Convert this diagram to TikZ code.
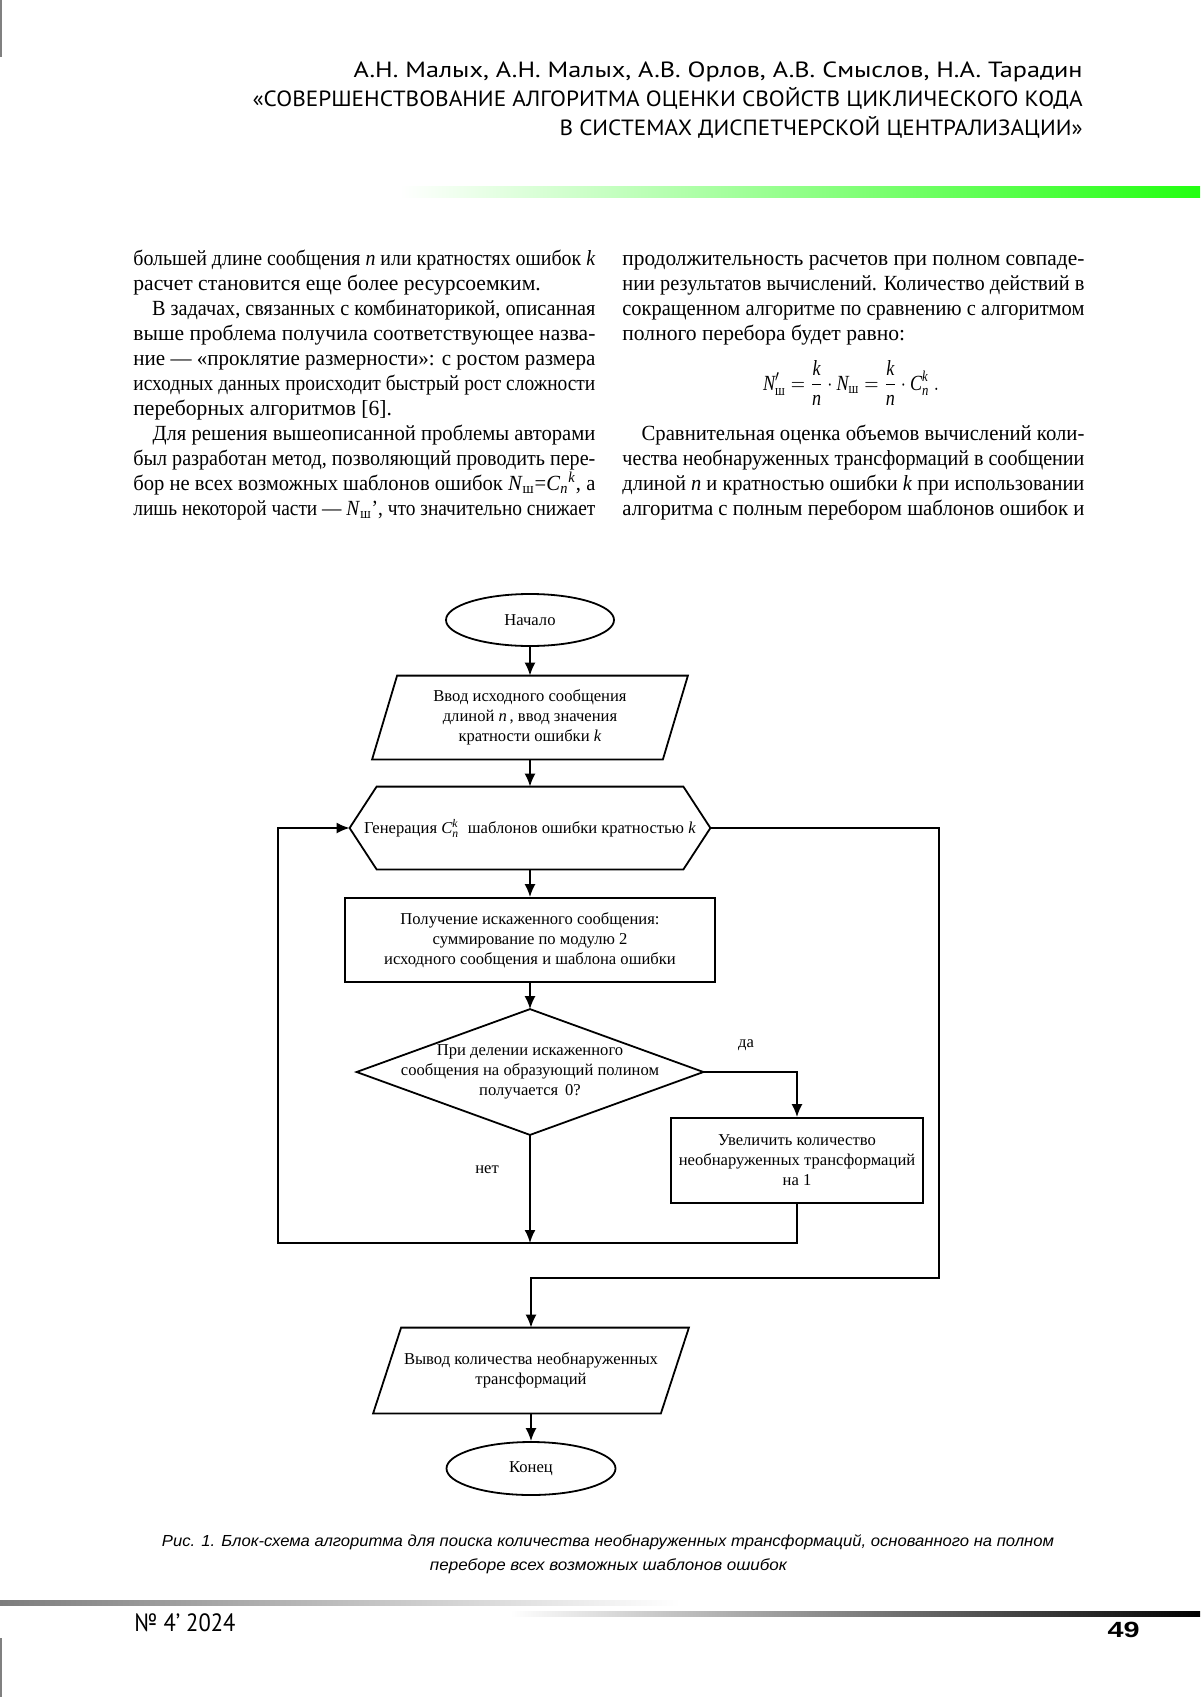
\documentclass[tikz,border=0pt]{standalone}
\usepackage{amsmath}
\usepackage{graphicx}
\usepackage{fontspec}
\setmainfont{Liberation Serif}
\newfontfamily\hdfont{PT Sans}
\newfontfamily\capfont{Liberation Sans}
\usetikzlibrary{arrows.meta,calc,shapes.geometric}
\definecolor{hdgreen}{RGB}{34,255,17}
\newlength\colw
\setlength\colw{231pt}
\newsavebox\lbox
\newcommand\jl[1]{\sbox\lbox{#1}\ifdim\wd\lbox>\colw\resizebox{\colw}{\height}{\usebox\lbox}\else\makebox[\colw][s]{#1}\fi}
\newcommand\fitw[2]{\resizebox{#1}{\height}{#2}}
\newcommand\vi[1]{\textit{#1}}
\newcommand\mi[1]{\text{\itshape #1}}
\newcommand\bodyfont{\fontsize{10.8}{12.5}\selectfont}
\newcommand\flfont{\fontsize{8.3}{10}\selectfont}
\tikzset{
  bline/.style={anchor=base west, inner sep=0, font=\bodyfont},
  hd/.style={anchor=base east, inner sep=0, font=\hdfont\fontsize{11}{13}\selectfont},
  fl/.style={line width=0.9pt, draw=black},
  arr/.style={fl, -{Latex[length=6.5pt,width=5.5pt]}},
  flbox/.style={inner sep=0, align=center, font=\flfont},
  lbl/.style={inner sep=0, font=\flfont},
}
\begin{document}
\begin{tikzpicture}[x=0.5pt,y=-0.5pt]
\useasboundingbox (0,0) rectangle (1200,1697);
\fill[white] (0,0) rectangle (1200,1697);
% page decorations
\fill[gray] (0,0) rectangle (1.5,57);
\fill[gray] (0,1638) rectangle (2,1697);
\shade[left color=white, right color=hdgreen] (400,186) rectangle (1200,197);
\shade[left color={rgb,255:red,125;green,125;blue,125}, right color=white] (0,1600) rectangle (680,1605);
\shade[left color=white, right color=black] (510,1611) rectangle (1200,1616);
% header
\node[hd] (h1) at (1083,77) {\fitw{364.5pt}{А.Н. Малых, А.Н. Малых, А.В. Орлов, А.В. Смыслов, Н.А. Тарадин}};
\node[hd] (h2) at (1083,106) {\fitw{415pt}{«СОВЕРШЕНСТВОВАНИЕ АЛГОРИТМА ОЦЕНКИ СВОЙСТВ ЦИКЛИЧЕСКОГО КОДА}};
\node[hd] (h3) at (1083,135) {\fitw{261.5pt}{В СИСТЕМАХ ДИСПЕТЧЕРСКОЙ ЦЕНТРАЛИЗАЦИИ»}};
% left column
\node[bline] (l1) at (133,265) {\jl{большей длине сообщения \vi{n} или кратностях ошибок \vi{k}}};
\node[bline] (l2) at (133,290) {расчет становится еще более ресурсоемким.};
\node[bline] (l3) at (133,315) {\jl{\hspace*{10pt}В задачах, связанных с комбинаторикой, описанная}};
\node[bline] (l4) at (133,340) {\jl{выше проблема получила соответствующее назва-}};
\node[bline] (l5) at (133,365) {\jl{ние — «проклятие размерности»: с ростом размера}};
\node[bline] (l6) at (133,390) {\jl{исходных данных происходит быстрый рост сложности}};
\node[bline] (l7) at (133,415) {переборных алгоритмов [6].};
\node[bline] (l8) at (133,440) {\jl{\hspace*{10pt}Для решения вышеописанной проблемы авторами}};
\node[bline] (l9) at (133,465) {\jl{был разработан метод, позволяющий проводить пере-}};
\node[bline] (l10) at (133,490) {\jl{бор не всех возможных шаблонов ошибок \vi{N}\textsubscript{ш}=\vi{C}$_{\mi{n}}$\textsuperscript{\vi{k}}, а}};
\node[bline] (l11) at (133,515) {\jl{лишь некоторой части — \vi{N}\textsubscript{ш}', что значительно снижает}};
% right column
\node[bline] (r1) at (622,265) {\jl{продолжительность расчетов при полном совпаде-}};
\node[bline] (r2) at (622,290) {\jl{нии результатов вычислений. Количество действий в}};
\node[bline] (r3) at (622,315) {\jl{сокращенном алгоритме по сравнению с алгоритмом}};
\node[bline] (r4) at (622,340) {полного перебора будет равно:};
\node[inner sep=0, font=\bodyfont] (formula) at (851,383) {\fitw{88pt}{$\displaystyle \mi{N}'_{\text{ш}} = \frac{\mi{k}}{\mi{n}}\cdot\mi{N}_{\text{ш}} = \frac{\mi{k}}{\mi{n}}\cdot\mi{C}_{\mi{n}}^{\mi{k}}\ .$}};
\node[bline] (r8) at (622,440) {\jl{\hspace*{10pt}Сравнительная оценка объемов вычислений коли-}};
\node[bline] (r9) at (622,465) {\jl{чества необнаруженных трансформаций в сообщении}};
\node[bline] (r10) at (622,490) {\jl{длиной \vi{n} и кратностью ошибки \vi{k} при использовании}};
\node[bline] (r11) at (622,515) {\jl{алгоритма с полным перебором шаблонов ошибок и}};
% flowchart
\node[flbox, draw, fl, ellipse, minimum width=84pt, minimum height=26pt] (start) at (530,620) {Начало};
\node[flbox, minimum width=157.5pt, minimum height=41.5pt] (inp) at (530,717.5) {Ввод исходного сообщения\\длиной \vi{n}\,, ввод значения\\кратности ошибки \vi{k}};
\draw[fl] ([xshift=12.5pt]inp.north west) -- (inp.north east) -- ([xshift=-12.5pt]inp.south east) -- (inp.south west) -- cycle;
\node[flbox, minimum width=180pt, minimum height=41pt] (gen) at (530,828) {Генерация $\mi{C}_{\mi{n}}^{\mi{k}}$\; шаблонов ошибки кратностью \vi{k}};
\draw[fl] (gen.west) -- ([xshift=13.5pt]gen.north west) -- ([xshift=-13.5pt]gen.north east) -- (gen.east) -- ([xshift=-13.5pt]gen.south east) -- ([xshift=13.5pt]gen.south west) -- cycle;
\node[flbox, draw, fl, minimum width=185pt, minimum height=42pt] (get) at (530,940) {Получение искаженного сообщения:\\суммирование по модулю 2\\исходного сообщения и шаблона ошибки};
\node[flbox, minimum width=173pt, minimum height=62.5pt] (dec) at (530,1072) {При делении искаженного\\сообщения на образующий полином\\получается \,0?};
\draw[fl] (dec.north) -- (dec.east) -- (dec.south) -- (dec.west) -- cycle;
\node[flbox, draw, fl, minimum width=126pt, minimum height=42.5pt] (inc) at (797,1160.5) {Увеличить количество\\необнаруженных трансформаций\\на 1};
\node[flbox, minimum width=157.5pt, minimum height=42.5pt] (out) at (531,1370.5) {Вывод количества необнаруженных\\трансформаций};
\draw[fl] ([xshift=14pt]out.north west) -- (out.north east) -- ([xshift=-14pt]out.south east) -- (out.south west) -- cycle;
\node[flbox, draw, fl, ellipse, minimum width=84.5pt, minimum height=26.5pt] (end) at (531,1468.5) {Конец};
\coordinate (join) at (530,1243);
\coordinate (loopL) at (278,1243);
\coordinate (exitR) at (939,1278);
\draw[arr] (start) -- (inp);
\draw[arr] (inp) -- (gen);
\draw[arr] (gen) -- (get);
\draw[arr] (get) -- (dec);
\draw[arr] (dec.east) -| (inc.north);
\draw[arr] (dec.south) -- (join);
\draw[arr] (inc.south) |- (loopL) |- (gen.west);
\draw[arr] (gen.east) -| (exitR) -| (out.north);
\draw[arr] (out) -- (end);
\node[lbl] (yes) at (746,1045) {да};
\node[lbl] (no) at (487,1170) {нет};
% caption
\node[anchor=base, inner sep=0, font=\capfont\itshape\fontsize{8}{10}\selectfont] (cap1) at (608,1546) {\fitw{446pt}{Рис. 1. Блок-схема алгоритма для поиска количества необнаруженных трансформаций, основанного на полном}};
\node[anchor=base, inner sep=0, font=\capfont\itshape\fontsize{8}{10}\selectfont] (cap2) at (608.5,1570) {\fitw{178.5pt}{переборе всех возможных шаблонов ошибок}};
% footer
\node[anchor=base west, inner sep=0, font=\hdfont\fontsize{12.5}{14}\selectfont] (issue) at (134,1631) {\fitw{50.5pt}{№ 4’ 2024}};
\node[anchor=base east, inner sep=0, font=\capfont\bfseries\fontsize{11}{13}\selectfont] (page) at (1140,1637) {\fitw{16pt}{49}};
\end{tikzpicture}
\end{document}
